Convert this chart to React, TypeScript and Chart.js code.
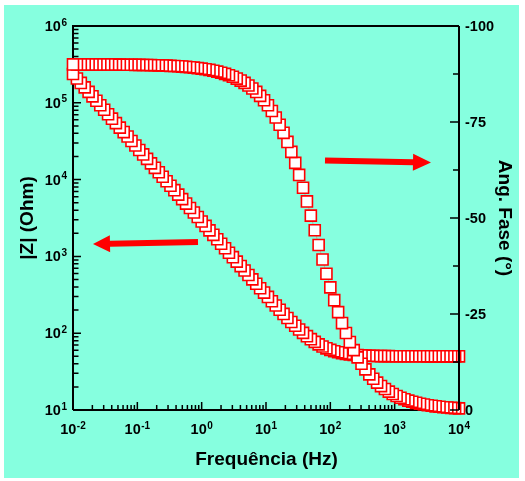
import React, { useEffect, useRef } from "react";
import { Chart, registerables } from "chart.js";

Chart.register(...registerables);

// ---- data (measurement order: high -> low frequency) ----
const FREQ_HZ = [
  10000, 8697, 7565, 6579, 5722, 4977, 4329, 3765, 3275, 2848,
  2477, 2154, 1874, 1630, 1417, 1233, 1072, 932.6, 811.1, 705.5,
  613.6, 533.7, 464.2, 403.7, 351.1, 305.4, 265.6, 231.0, 200.9, 174.8,
  152.0, 132.2, 115.0, 100.0, 86.97, 75.65, 65.79, 57.22, 49.77, 43.29,
  37.65, 32.75, 28.48, 24.77, 21.54, 18.74, 16.30, 14.17, 12.33, 10.72,
  9.326, 8.111, 7.055, 6.136, 5.337, 4.642, 4.037, 3.511, 3.054, 2.656,
  2.310, 2.009, 1.748, 1.520, 1.322, 1.150, 1.000, 0.8697, 0.7565, 0.6579,
  0.5722, 0.4977, 0.4329, 0.3765, 0.3275, 0.2848, 0.2477, 0.2154, 0.1874, 0.1630,
  0.1417, 0.1233, 0.1072, 0.09326, 0.08111, 0.07055, 0.06136, 0.05337, 0.04642, 0.04037,
  0.03511, 0.03054, 0.02656, 0.02310, 0.02009, 0.01748, 0.01520, 0.01322, 0.01150, 0.01000,
];

const Z_MOD_OHM = [
  50.00, 50.00, 50.00, 50.00, 50.00, 50.01, 50.01, 50.01, 50.01, 50.02,
  50.02, 50.03, 50.04, 50.06, 50.07, 50.09, 50.12, 50.16, 50.21, 50.28,
  50.36, 50.47, 50.61, 50.80, 51.04, 51.36, 51.77, 52.30, 52.99, 53.87,
  55.01, 56.46, 58.31, 60.62, 63.53, 67.15, 71.59, 77.03, 83.59, 91.48,
  100.9, 111.9, 124.9, 140.1, 157.7, 178.3, 201.9, 229.1, 260.5, 296.6,
  338.0, 385.5, 439.9, 502.1, 573.5, 655.0, 748.5, 855.4, 977.4, 1117,
  1277, 1460, 1670, 1909, 2182, 2494, 2851, 3260, 3727, 4262,
  4873, 5571, 6370, 7284, 8328, 9519, 10890, 12450, 14230, 16270,
  18600, 21270, 24320, 27810, 31800, 36360, 41560, 47520, 54330, 62120,
  71030, 81210, 92840, 106200, 121400, 138800, 158700, 181400, 207400, 237100,
];

const PHASE_DEG = [
  -0.43, -0.49, -0.56, -0.64, -0.73, -0.84, -0.96, -1.10, -1.25, -1.43,
  -1.64, -1.87, -2.14, -2.45, -2.80, -3.20, -3.66, -4.18, -4.78, -5.46,
  -6.23, -7.12, -8.13, -9.27, -10.58, -12.05, -13.71, -15.59, -17.69, -20.04,
  -22.64, -25.49, -28.60, -31.94, -35.48, -39.18, -42.97, -46.81, -50.61, -54.32,
  -57.87, -61.22, -64.35, -67.22, -69.81, -72.18, -74.29, -76.18, -77.86, -79.35,
  -80.66, -81.81, -82.83, -83.72, -84.50, -85.18, -85.79, -86.31, -86.77, -87.18,
  -87.53, -87.84, -88.11, -88.35, -88.56, -88.74, -88.89, -89.03, -89.15, -89.26,
  -89.35, -89.43, -89.51, -89.57, -89.62, -89.67, -89.71, -89.75, -89.78, -89.81,
  -89.83, -89.85, -89.87, -89.89, -89.90, -89.91, -89.92, -89.93, -89.94, -89.95,
  -89.96, -89.96, -89.97, -89.97, -89.97, -89.98, -89.98, -89.98, -89.98, -89.99,
];

// ---- axis ticks / labels ----
const X_TICK_EXP = [-2, -1, 0, 1, 2, 3, 4];
const Y_TICK_EXP = [1, 2, 3, 4, 5, 6];
const PHASE_TICKS = [-100, -75, -50, -25, 0];
const PHASE_MINOR_TICKS = [-87.5, -62.5, -37.5, -12.5];
const X_TITLE = "Frequência (Hz)";
const Y_TITLE = "|Z| (Ohm)";
const Y2_TITLE = "Ang. Fase (°)";

const BG = "#86ffdf";
const RED = "#ff0000";
const FONT = '"Liberation Sans", Arial, Helvetica, sans-serif';

function drawPow(ctx: CanvasRenderingContext2D, exp: number, x: number, y: number, align: string) {
  const base = "10";
  const e = String(exp);
  ctx.font = `bold 14.5px ${FONT}`;
  const wb = ctx.measureText(base).width;
  ctx.font = `bold 10px ${FONT}`;
  const we = ctx.measureText(e).width;
  const total = wb + we + 0.5;
  let x0 = x;
  if (align === "center") x0 = x - total / 2;
  else if (align === "right") x0 = x - total;
  ctx.textAlign = "left";
  ctx.textBaseline = "alphabetic";
  ctx.fillStyle = "#000";
  ctx.font = `bold 14.5px ${FONT}`;
  ctx.fillText(base, x0, y);
  ctx.font = `bold 10px ${FONT}`;
  ctx.fillText(e, x0 + wb + 0.5, y - 5.5);
}

function drawArrow(ctx: CanvasRenderingContext2D, x1: number, y1: number, x2: number, y2: number, shaft: number, headL: number, headW: number) {
  const dx = x2 - x1, dy = y2 - y1;
  const len = Math.hypot(dx, dy);
  const ux = dx / len, uy = dy / len;
  const nx = -uy, ny = ux;
  const bx = x2 - ux * headL, by = y2 - uy * headL;
  ctx.fillStyle = RED;
  ctx.beginPath();
  ctx.moveTo(x1 + nx * shaft / 2, y1 + ny * shaft / 2);
  ctx.lineTo(bx + nx * shaft / 2, by + ny * shaft / 2);
  ctx.lineTo(bx + nx * headW / 2, by + ny * headW / 2);
  ctx.lineTo(x2, y2);
  ctx.lineTo(bx - nx * headW / 2, by - ny * headW / 2);
  ctx.lineTo(bx - nx * shaft / 2, by - ny * shaft / 2);
  ctx.lineTo(x1 - nx * shaft / 2, y1 - ny * shaft / 2);
  ctx.closePath();
  ctx.fill();
}

const decoPlugin = {
  id: "deco",
  beforeDraw(chart: any) {
    const ctx = chart.ctx as CanvasRenderingContext2D;
    ctx.save();
    ctx.fillStyle = "#ffffff";
    ctx.fillRect(0, 0, chart.width, chart.height);
    ctx.fillStyle = BG;
    ctx.fillRect(4, 5, 515, 473);
    ctx.restore();
  },
  beforeDatasetsDraw(chart: any) {
    const ctx = chart.ctx as CanvasRenderingContext2D;
    const { left, right, top, bottom } = chart.chartArea;
    const xs = chart.scales.x;
    const ys = chart.scales.y;
    ctx.save();
    ctx.strokeStyle = "#000";
    ctx.lineWidth = 1.5;
    ctx.beginPath();
    for (let n = -2; n <= 4; n++) {
      for (let m = 1; m <= 9; m++) {
        const v = m * Math.pow(10, n);
        if (v > 10000 + 1e-9) break;
        const px = xs.getPixelForValue(v);
        const L = m === 1 ? 8 : 5;
        ctx.moveTo(px, bottom);
        ctx.lineTo(px, bottom - L);
      }
    }
    for (let n = 1; n <= 6; n++) {
      for (let m = 1; m <= 9; m++) {
        const v = m * Math.pow(10, n);
        if (v > 1e6 + 1e-6) break;
        const py = ys.getPixelForValue(v);
        const L = m === 1 ? 8 : 5.5;
        ctx.moveTo(left, py);
        ctx.lineTo(left + L, py);
      }
    }
    ctx.stroke();
    ctx.lineWidth = 2;
    ctx.beginPath();
    ctx.moveTo(left, bottom);
    ctx.lineTo(left, top);
    ctx.lineTo(right, top);
    ctx.moveTo(left, bottom);
    ctx.lineTo(right, bottom);
    ctx.stroke();
    ctx.restore();
  },
  afterDatasetsDraw(chart: any) {
    const ctx = chart.ctx as CanvasRenderingContext2D;
    const { left, right, top, bottom } = chart.chartArea;
    const xs = chart.scales.x;
    const ys = chart.scales.y;
    const y2 = chart.scales.y2;
    ctx.save();
    ctx.strokeStyle = "#000";
    ctx.lineWidth = 2;
    ctx.beginPath();
    ctx.moveTo(right, top);
    ctx.lineTo(right, bottom);
    ctx.stroke();
    ctx.lineWidth = 1.5;
    ctx.beginPath();
    PHASE_TICKS.forEach((v) => {
      const py = y2.getPixelForValue(v);
      ctx.moveTo(right, py);
      ctx.lineTo(right - 9, py);
    });
    PHASE_MINOR_TICKS.forEach((v) => {
      const py = y2.getPixelForValue(v);
      ctx.moveTo(right, py);
      ctx.lineTo(right - 6, py);
    });
    ctx.stroke();

    X_TICK_EXP.forEach((e) => drawPow(ctx, e, xs.getPixelForValue(Math.pow(10, e)), 434, "center"));
    Y_TICK_EXP.forEach((e) => drawPow(ctx, e, left - 6, ys.getPixelForValue(Math.pow(10, e)) + 5, "right"));
    ctx.fillStyle = "#000";
    ctx.font = `bold 14.5px ${FONT}`;
    ctx.textAlign = "left";
    ctx.textBaseline = "alphabetic";
    PHASE_TICKS.forEach((v) => {
      ctx.fillText(String(v), right + 6, y2.getPixelForValue(v) + 5);
    });

    ctx.font = `bold 19px ${FONT}`;
    ctx.textAlign = "center";
    ctx.fillText(X_TITLE, (left + right) / 2 + 0.5, 465);
    ctx.save();
    ctx.translate(33, 218);
    ctx.rotate(-Math.PI / 2);
    ctx.fillText(Y_TITLE, 0, 0);
    ctx.restore();
    ctx.save();
    ctx.translate(499, 218);
    ctx.rotate(Math.PI / 2);
    ctx.fillText(Y2_TITLE, 0, 0);
    ctx.restore();

    drawArrow(ctx, 325, 160.5, 431, 162.5, 6, 18, 17);
    drawArrow(ctx, 198, 242, 93, 244, 6, 17, 17);
    ctx.restore();
  },
};

export default function App() {
  const ref = useRef<HTMLCanvasElement | null>(null);
  useEffect(() => {
    if (!ref.current) return;
    const phasePts = FREQ_HZ.map((f, i) => ({ x: f, y: PHASE_DEG[i] }));
    const zPts = FREQ_HZ.map((f, i) => ({ x: f, y: Z_MOD_OHM[i] }));
    const common = {
      showLine: true,
      borderColor: "rgba(235,110,110,0.55)",
      borderWidth: 1,
      pointStyle: "rect",
      pointRadius: 7.8,
      pointBorderColor: RED,
      pointBackgroundColor: "#ffffff",
      pointBorderWidth: 1.6,
      fill: false,
      clip: false as any,
      tension: 0,
    };
    const chart = new Chart(ref.current, {
      type: "scatter",
      data: {
        datasets: [
          { label: "Fase", data: phasePts, yAxisID: "y2", ...common } as any,
          { label: "|Z|", data: zPts, yAxisID: "y", ...common } as any,
        ],
      },
      options: {
        responsive: false,
        maintainAspectRatio: false,
        devicePixelRatio: 1,
        animation: false,
        events: [],
        layout: { padding: { left: 73, top: 26, right: 66, bottom: 71 } },
        plugins: { legend: { display: false }, tooltip: { enabled: false }, title: { display: false } },
        scales: {
          x: { type: "logarithmic", min: 0.01, max: 10000, display: false },
          y: { type: "logarithmic", min: 10, max: 1000000, display: false },
          y2: { type: "linear", min: -100, max: 0, reverse: true, display: false, position: "right" },
        },
      } as any,
      plugins: [decoPlugin],
    });
    return () => chart.destroy();
  }, []);
  return (
    <div style={{ position: "fixed", left: 0, top: 0, width: 525, height: 481, background: "#fff" }}>
      <canvas ref={ref} width={525} height={481} style={{ display: "block", width: 525, height: 481 }} />
    </div>
  );
}
